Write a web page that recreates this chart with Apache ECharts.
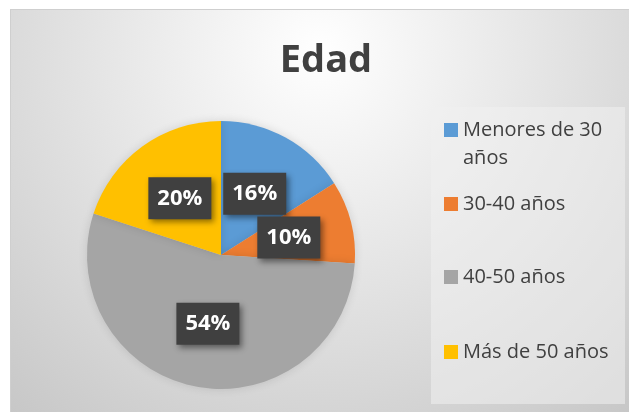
<!DOCTYPE html>
<html>
<head>
<meta charset="utf-8">
<script src="https://cdn.jsdelivr.net/npm/echarts@6/dist/echarts.min.js"></script>
<style>
    html, body { margin: 0; padding: 0; background: #fff; }
    #chart {
        position: absolute; left: 10px; top: 9px;
        width: 619px; height: 403px;
        box-sizing: border-box;
        border-left: 1px solid #cfcfcf;
        border-top: 1px solid #cfcfcf;
    }
</style>
</head>
<body>
<div id="chart"></div>
<script>
var titleText = 'Edad';
var categories = ['Menores de 30\naños', '30-40 años', '40-50 años', 'Más de 50 años'];
var values = [16, 10, 54, 20];
var colors = ['#5b9bd5', '#ed7d31', '#a5a5a5', '#ffc000'];

var fontFamily = '"Open Sans", sans-serif';

function getLegends() {
    // one legend per item, so each row can be placed like the original
    var centers = [120, 194, 267, 342]; // icon centre y
    return categories.map(function (name, i) {
        var multi = name.indexOf('\n') >= 0;
        return {
            orient: 'vertical',
            left: 433,
            top: multi ? centers[i] - 42 : centers[i] - 14,
            padding: 0,
            icon: 'rect',
            itemWidth: 14,
            itemHeight: 14,
            selectedMode: false,
            data: [name],
            // empty first line: the square then sits on the first real line
            formatter: function (n) {
                return n.indexOf('\n') >= 0 ? '\n' + n : n;
            },
            textStyle: {
                fontFamily: fontFamily,
                fontSize: 20,
                color: '#404040',
                lineHeight: 28
            }
        };
    });
}

function getChart() {
    var myChart = echarts.init(document.getElementById('chart'));
    var option = {
        animation: false,
        backgroundColor: {
            type: 'radial',
            x: 0.5, y: 0.1, r: 1.25,
            colorStops: [
                { offset: 0, color: '#ffffff' },
                { offset: 1, color: '#c4c4c4' }
            ]
        },
        color: colors,
        title: {
            text: titleText,
            left: 310,
            top: 27,
            textAlign: 'center',
            textStyle: {
                fontFamily: fontFamily,
                fontSize: 38,
                fontWeight: 'bold',
                color: '#404040'
            }
        },
        graphic: {
            elements: [{
                type: 'rect', //图例底框
                left: 420,
                top: 97,
                z: -1,
                shape: { width: 194, height: 297 },
                style: { fill: 'rgba(240,240,240,0.55)' }
            }]
        },
        legend: getLegends(),
        series: [{
            type: 'pie',
            center: [210, 245],
            radius: ['0%', 134],
            startAngle: 90,
            clockwise: true,
            silent: true,
            itemStyle: {
                borderWidth: 0,
                shadowBlur: 10,
                shadowColor: 'rgba(0,0,0,0.12)'
            },
            label: {
                show: true,
                position: 'inside',
                formatter: '{d}%',
                fontFamily: fontFamily,
                fontSize: 22,
                fontWeight: 'bold',
                color: '#ffffff',
                lineHeight: 24,
                backgroundColor: '#404040',
                padding: [9, 9],
                shadowBlur: 6,
                shadowOffsetX: 3,
                shadowOffsetY: 3,
                shadowColor: 'rgba(0,0,0,0.45)'
            },
            labelLine: { show: false },
            data: categories.map(function (name, i) {
                return { name: name, value: values[i] };
            })
        }]
    };
    myChart.setOption(option);
}
getChart();
</script>
</body>
</html>
